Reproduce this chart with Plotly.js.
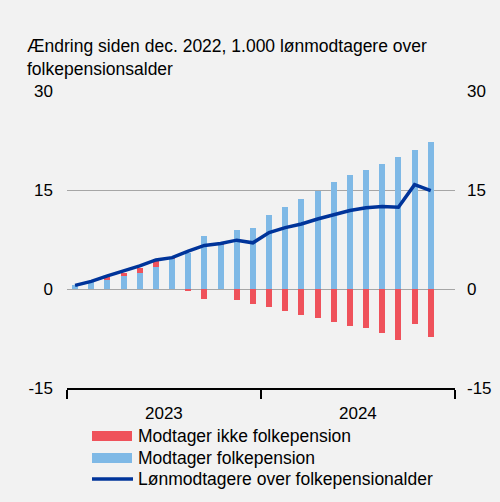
<!DOCTYPE html>
<html>
<head>
<meta charset="utf-8">
<script src="https://cdn.plot.ly/plotly-3.0.1.min.js"></script>
<style>html,body{margin:0;padding:0;background:#f2f2f2;}#chart{width:500px;height:502px;}</style>
</head>
<body>
<div id="chart"></div>
<script>
const months = ['2023-01','2023-02','2023-03','2023-04','2023-05','2023-06','2023-07','2023-08','2023-09','2023-10','2023-11','2023-12',
                '2024-01','2024-02','2024-03','2024-04','2024-05','2024-06','2024-07','2024-08','2024-09','2024-10','2024-11'];
const modtagerFolkepension = [0.6, 1.0, 1.4, 1.9, 2.5, 3.4, 4.6, 5.5, 8.0, 6.6, 8.9, 9.2, 11.2, 12.5, 13.6, 14.8, 16.2, 17.3, 18.1, 18.9, 19.95, 21.1, 22.2];
const modtagerIkkeFolkepension = [0, 0, 0.4, 0.6, 0.75, 0.9, 0.1, -0.25, -1.45, 0.2, -1.6, -2.2, -2.7, -3.3, -3.9, -4.4, -5.05, -5.6, -5.9, -6.6, -7.7, -5.35, -7.3];
const loenmodtagere = [0.55, 1.15, 2.0, 2.7, 3.5, 4.4, 4.75, 5.75, 6.6, 6.9, 7.4, 7.0, 8.55, 9.3, 9.85, 10.6, 11.3, 11.9, 12.3, 12.5, 12.4, 15.8, 14.9];
const years = ['2023', '2024'];
const yTicks = [-15, 0, 15, 30];
const seriesNames = ['Modtager ikke folkepension', 'Modtager folkepension', 'Lønmodtagere over folkepensionalder'];
const titleText = 'Ændring siden dec. 2022, 1.000 lønmodtagere over<br>folkepensionsalder';

const colRed = '#ef525b', colBlue = '#7fb9e6', colLine = '#00349a';
const x = months.map((m, i) => i);
const FONT = 'Liberation Sans, Arial, sans-serif';

const traces = [
  {type: 'bar', x: x, y: modtagerFolkepension, name: seriesNames[1], marker: {color: colBlue}, width: 0.38, showlegend: false},
  {type: 'bar', x: x, y: modtagerIkkeFolkepension, name: seriesNames[0], marker: {color: colRed}, width: 0.38, showlegend: false},
  {type: 'scatter', mode: 'lines', x: x, y: loenmodtagere, name: seriesNames[2], line: {color: colLine, width: 3.5}, showlegend: false},
  {type: 'scatter', mode: 'lines', x: x, y: loenmodtagere, yaxis: 'y2', hoverinfo: 'skip', line: {color: 'rgba(0,0,0,0)', width: 0}, showlegend: false}
];

// year tick boundaries
const yearStarts = years.map((y, i) => months.indexOf(y + '-01') - 0.5);
const lastEdge = yearStarts[yearStarts.length - 1] + 12;
const bounds = yearStarts.concat([lastEdge]);

const annotations = years.map((y, i) => ({
  text: y, x: yearStarts[i] + 6, xref: 'x', y: 0, yref: 'paper', yanchor: 'top', yshift: -14,
  showarrow: false, font: {family: FONT, size: 17, color: '#000'}
}));

// custom legend
const legY = [436, 458, 479];
const shapes = [];
[colRed, colBlue].forEach((c, i) => {
  shapes.push({type: 'rect', xref: 'paper', yref: 'paper', layer: 'above',
    x0: (92 - 67) / 388, x1: (132 - 67) / 388,
    y0: (388 - (legY[i] + 5)) / 297,
    y1: (388 - (legY[i] - 5)) / 297,
    line: {width: 0}, fillcolor: c});
});
shapes.push({type: 'line', xref: 'paper', yref: 'paper', x0: (92 - 67) / 388, x1: (133 - 67) / 388,
  y0: (388 - legY[2]) / 297, y1: (388 - legY[2]) / 297, line: {color: colLine, width: 3.5}});
seriesNames.forEach((n, i) => {
  annotations.push({text: n, xref: 'paper', yref: 'paper', x: (136 - 67) / 388, y: (388 - legY[i]) / 297,
    xanchor: 'left', yanchor: 'middle', showarrow: false, font: {family: FONT, size: 17.5, color: '#000'}});
});

const layout = {
  width: 500, height: 502,
  paper_bgcolor: '#f2f2f2', plot_bgcolor: '#f2f2f2',
  margin: {l: 67, r: 45, t: 91, b: 114},
  barmode: 'relative', bargap: 0,
  showlegend: false,
  title: {text: titleText, x: 27 / 500, xanchor: 'left', xref: 'container', y: 1 - 52 / 502, yanchor: 'top',
          font: {family: FONT, size: 17.5, color: '#000'}},
  xaxis: {range: [-0.5, lastEdge], tickvals: bounds, ticktext: bounds.map(() => ''), ticks: 'outside', ticklen: 9,
          tickwidth: 1.5, tickcolor: '#000', showline: true, linecolor: '#000', linewidth: 1.5,
          showgrid: false, zeroline: false, fixedrange: true},
  yaxis: {range: [-15, 30], tickvals: yTicks, ticktext: yTicks.map(String), showgrid: true, gridcolor: '#a6a6a6', gridwidth: 1,
          zeroline: false, showline: false, ticks: '', ticklabelstandoff: 13,
          tickfont: {family: FONT, size: 17, color: '#000'}},
  yaxis2: {range: [-15, 30], tickvals: yTicks, ticktext: yTicks.map(String), overlaying: 'y', side: 'right', showgrid: false,
           zeroline: false, showline: false, ticks: '', ticklabelstandoff: 11,
           tickfont: {family: FONT, size: 17, color: '#000'}},
  annotations: annotations,
  shapes: shapes
};

Plotly.newPlot('chart', traces, layout, {staticPlot: true, displayModeBar: false});
</script>
</body>
</html>
